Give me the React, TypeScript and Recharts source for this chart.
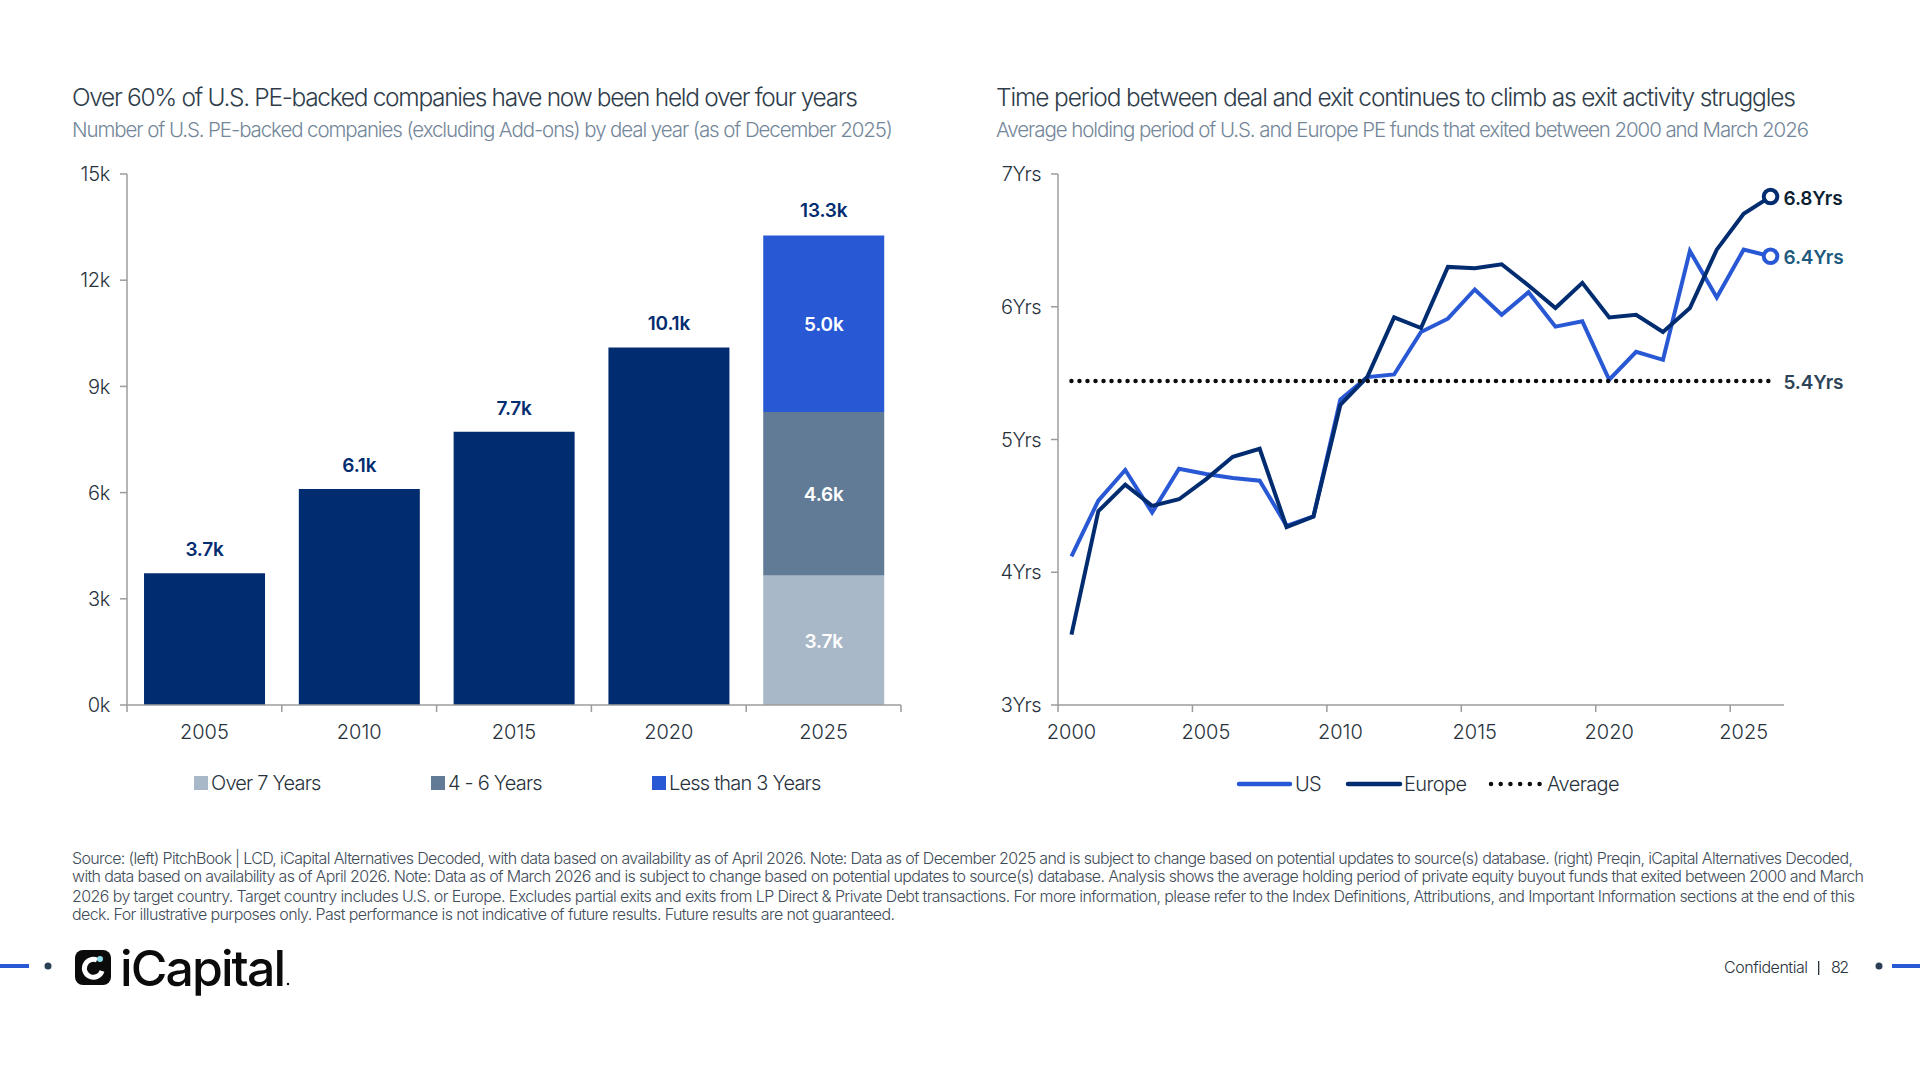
import { Bar, BarChart, LabelList, Legend, Line, LineChart, XAxis, YAxis } from 'recharts';

const FONT = 'Inter, "Noto Sans", sans-serif';
const NAVY = '#022c70';
const BLUE = '#2958d5';
const SLATE = '#617a95';
const MIST = '#a9b8c8';
const AXIS = '#9c9c9c';
const INK = '#28323c';

// left chart
const dealYears = ['2005', '2010', '2015', '2020', '2025'];
const allHeld = [3.72, 6.1, 7.72, 10.1, null];
const over7 = [null, null, null, null, 3.66];
const fourToSix = [null, null, null, null, 4.62];
const under3 = [null, null, null, null, 4.98];
const stackTotal = [null, null, null, null, 13.3];
const countTicks = [0, 3, 6, 9, 12, 15];

// right chart
const exitYears = ['2000', '2001', '2002', '2003', '2004', '2005', '2006', '2007', '2008', '2009', '2010', '2011', '2012', '2013', '2014', '2015', '2016', '2017', '2018', '2019', '2020', '2021', '2022', '2023', '2024', '2025', '2026'];
const usHolding = [4.12, 4.54, 4.77, 4.45, 4.78, 4.74, 4.71, 4.69, 4.35, 4.42, 5.3, 5.47, 5.49, 5.81, 5.91, 6.13, 5.94, 6.11, 5.85, 5.89, 5.45, 5.66, 5.6, 6.42, 6.07, 6.43, 6.38];
const europeHolding = [3.53, 4.46, 4.66, 4.5, 4.55, 4.7, 4.87, 4.93, 4.34, 4.42, 5.26, 5.47, 5.92, 5.84, 6.3, 6.29, 6.32, 6.16, 5.99, 6.18, 5.92, 5.94, 5.81, 5.99, 6.43, 6.7, 6.83];
const averageHolding = [5.44, 5.44, 5.44, 5.44, 5.44, 5.44, 5.44, 5.44, 5.44, 5.44, 5.44, 5.44, 5.44, 5.44, 5.44, 5.44, 5.44, 5.44, 5.44, 5.44, 5.44, 5.44, 5.44, 5.44, 5.44, 5.44, 5.44];
const yearTicks = [3, 4, 5, 6, 7];

const footnotes = [
  'Source: (left) PitchBook | LCD, iCapital Alternatives Decoded, with data based on availability as of April 2026. Note: Data as of December 2025 and is subject to change based on potential updates to source(s) database. (right) Preqin, iCapital Alternatives Decoded,',
  'with data based on availability as of April 2026. Note: Data as of March 2026 and is subject to change based on potential updates to source(s) database. Analysis shows the average holding period of private equity buyout funds that exited between 2000 and March',
  '2026 by target country. Target country includes U.S. or Europe. Excludes partial exits and exits from LP Direct & Private Debt transactions. For more information, please refer to the Index Definitions, Attributions, and Important Information sections at the end of this',
  'deck. For illustrative purposes only. Past performance is not indicative of future results. Future results are not guaranteed.',
];

const barData = dealYears.map((year, i) => ({
  year,
  allHeld: allHeld[i],
  over7: over7[i],
  fourToSix: fourToSix[i],
  under3: under3[i],
  stackTotal: stackTotal[i],
}));

const lineData = exitYears.map((year, i) => ({
  year,
  US: usHolding[i],
  Europe: europeHolding[i],
  Average: averageHolding[i],
}));

const LAST = exitYears.length - 1;
const kLabel = (v: unknown) => (v == null ? '' : `${Number(v).toFixed(1)}k`);

function Txt({ x, y, w, size, fill, weight = 300, children }: any) {
  return (
    <text x={x} y={y} textLength={w} fontSize={size} fill={fill} fontWeight={weight} fontFamily={FONT}>
      {children}
    </text>
  );
}

function bandTick(band: number, closeEnd: boolean, count: number) {
  return ({ x, y, payload, index }: any) => (
    <g>
      <line x1={x - band / 2} x2={x - band / 2} y1={y - 7} y2={y} stroke={AXIS} strokeWidth={1.5} />
      {closeEnd && index === count - 1 && (
        <line x1={x + band / 2} x2={x + band / 2} y1={y - 7} y2={y} stroke={AXIS} strokeWidth={1.5} />
      )}
      <text x={x} y={y + 27} textAnchor="middle" fontSize={20} fontWeight={300} fill={INK} fontFamily={FONT}>
        {payload.value}
      </text>
    </g>
  );
}

function endDot(color: string) {
  return ({ cx, cy, index }: any) =>
    index === LAST ? (
      <circle key="end" cx={cx} cy={cy} r={6.8} fill="#fff" stroke={color} strokeWidth={4} />
    ) : (
      <g key={index} />
    );
}

function endLabel(text: string, color: string) {
  return ({ x, y, index }: any) =>
    index === LAST ? (
      <text key="end" x={x + 13} y={y + 8} fontSize={19} fontWeight={600} letterSpacing={-0.2} fill={color} fontFamily={FONT}>
        {text}
      </text>
    ) : (
      <g key={index} />
    );
}

const legendText = { position: 'absolute', top: 0, fontSize: 20, fontWeight: 300, letterSpacing: -0.8, color: INK, whiteSpace: 'nowrap', fontFamily: FONT, lineHeight: '24px' } as const;

function BarLegend() {
  const items = [
    { name: 'Over 7 Years', color: MIST, left: 0 },
    { name: '4 - 6 Years', color: SLATE, left: 237 },
    { name: 'Less than 3 Years', color: BLUE, left: 458 },
  ];
  return (
    <div style={{ position: 'relative', width: 640, height: 24 }}>
      {items.map((it) => (
        <div key={it.name}>
          <div style={{ position: 'absolute', left: it.left, top: 5, width: 14, height: 14, background: it.color }} />
          <span style={{ ...legendText, left: it.left + 17 }}>{it.name}</span>
        </div>
      ))}
    </div>
  );
}

function LineLegend() {
  const label = { fontSize: 20, fontWeight: 300, letterSpacing: -0.6, fill: INK, fontFamily: FONT };
  return (
    <svg width={400} height={24} style={{ display: 'block', overflow: 'visible' }}>
      <line x1={2} x2={53} y1={12} y2={12} stroke={BLUE} strokeWidth={4.5} strokeLinecap="round" />
      <text x={58} y={19} {...label}>US</text>
      <line x1={111} x2={163} y1={12} y2={12} stroke={NAVY} strokeWidth={4.5} strokeLinecap="round" />
      <text x={167} y={19} {...label}>Europe</text>
      <line x1={254} x2={303} y1={12} y2={12} stroke="#0d0d0d" strokeWidth={4.5} strokeLinecap="round" strokeDasharray="0.01 9.7" />
      <text x={310} y={19} {...label}>Average</text>
    </svg>
  );
}

const insideLabel = { fontSize: 19, fontWeight: 600, letterSpacing: -0.2, fill: '#fff', fontFamily: FONT };
const topLabel = { fontSize: 19, fontWeight: 600, letterSpacing: -0.2, fill: NAVY, fontFamily: FONT };

function CountChart() {
  return (
    <BarChart
      width={960}
      height={680}
      data={barData}
      barCategoryGap="11%"
      margin={{ top: 24, right: 59, bottom: 65, left: 60 }}
    >
      <XAxis
        dataKey="year"
        height={60}
        tickSize={7}
        tickMargin={0}
        tickLine={false}
        axisLine={{ stroke: AXIS, strokeWidth: 1.5 }}
        tick={bandTick(154.8, true, dealYears.length)}
      />
      <YAxis
        width={67}
        domain={[0, 15]}
        ticks={countTicks}
        tickFormatter={(v) => `${v}k`}
        tickSize={7}
        tickMargin={10}
        interval={0}
        axisLine={{ stroke: AXIS, strokeWidth: 1.5 }}
        tickLine={{ stroke: AXIS, strokeWidth: 1.5 }}
        tick={{ fontSize: 20, fontWeight: 300, letterSpacing: -0.3, fill: INK, fontFamily: FONT }}
      />
      <Bar dataKey="allHeld" stackId="a" fill={NAVY} isAnimationActive={false}>
        <LabelList dataKey="allHeld" position="top" offset={17} formatter={kLabel} style={topLabel} />
      </Bar>
      <Bar dataKey="over7" stackId="a" fill={MIST} isAnimationActive={false}>
        <LabelList dataKey="over7" position="center" dy={1} formatter={kLabel} style={insideLabel} />
      </Bar>
      <Bar dataKey="fourToSix" stackId="a" fill={SLATE} isAnimationActive={false}>
        <LabelList dataKey="fourToSix" position="center" dy={1} formatter={kLabel} style={insideLabel} />
      </Bar>
      <Bar dataKey="under3" stackId="a" fill={BLUE} isAnimationActive={false}>
        <LabelList dataKey="under3" position="center" dy={1} formatter={kLabel} style={insideLabel} />
        <LabelList dataKey="stackTotal" position="top" offset={19} formatter={kLabel} style={topLabel} />
      </Bar>
      <Legend
        layout="horizontal"
        verticalAlign="middle"
        align="center"
        wrapperStyle={{ position: 'absolute', left: 194, top: 620.5, width: 640, height: 24 }}
        content={() => <BarLegend />}
      />
    </BarChart>
  );
}

function HoldingChart() {
  return (
    <LineChart
      width={960}
      height={680}
      data={lineData}
      margin={{ top: 24, right: 136, bottom: 65, left: 38 }}
    >
      <XAxis
        dataKey="year"
        height={60}
        interval={4}
        padding={{ left: 13.46, right: 13.46 }}
        tickSize={7}
        tickMargin={0}
        tickLine={false}
        axisLine={{ stroke: AXIS, strokeWidth: 1.5 }}
        tick={bandTick(26.92, false, exitYears.length)}
      />
      <YAxis
        width={60}
        domain={[3, 7]}
        ticks={yearTicks}
        tickFormatter={(v) => `${v}Yrs`}
        tickSize={7}
        tickMargin={10}
        interval={0}
        axisLine={{ stroke: AXIS, strokeWidth: 1.5 }}
        tickLine={{ stroke: AXIS, strokeWidth: 1.5 }}
        tick={{ fontSize: 20, fontWeight: 300, letterSpacing: -0.5, fill: INK, fontFamily: FONT }}
      />
      <Line dataKey="US" stroke={BLUE} strokeWidth={4} strokeLinejoin="miter" isAnimationActive={false} dot={endDot(BLUE)} label={endLabel('6.4Yrs', '#1d5a7e')} />
      <Line dataKey="Europe" stroke={NAVY} strokeWidth={4} strokeLinejoin="miter" isAnimationActive={false} dot={endDot(NAVY)} label={endLabel('6.8Yrs', '#0d1f33')} />
      <Line dataKey="Average" stroke="#0d0d0d" strokeWidth={4.5} strokeLinecap="round" strokeDasharray="0.01 8" isAnimationActive={false} dot={false} label={endLabel('5.4Yrs', '#2e4357')} />
      <Legend
        layout="horizontal"
        verticalAlign="middle"
        align="center"
        wrapperStyle={{ position: 'absolute', left: 277, top: 621.5, width: 400, height: 24 }}
        content={() => <LineLegend />}
      />
    </LineChart>
  );
}

export default function App() {
  return (
    <div style={{ position: 'absolute', left: 0, top: 0, width: 1920, height: 1080, background: '#fff', overflow: 'hidden' }}>
      <svg width={1920} height={1080} style={{ position: 'absolute', left: 0, top: 0 }}>
        <Txt x={72} y={106} w={786} size={24.5} fill="#2f3d4b">Over 60% of U.S. PE-backed companies have now been held over four years</Txt>
        <Txt x={72} y={137} w={821} size={20.5} fill="#74879a">Number of U.S. PE-backed companies (excluding Add-ons) by deal year (as of December 2025)</Txt>
        <Txt x={996} y={106} w={800} size={24.5} fill="#2f3d4b">Time period between deal and exit continues to climb as exit activity struggles</Txt>
        <Txt x={996} y={137} w={813} size={20.5} fill="#74879a">Average holding period of U.S. and Europe PE funds that exited between 2000 and March 2026</Txt>

        <Txt x={72} y={864} w={1781} size={16} fill="#3f4c59">{footnotes[0]}</Txt>
        <Txt x={72} y={882} w={1792} size={16} fill="#3f4c59">{footnotes[1]}</Txt>
        <Txt x={72} y={902} w={1783} size={16} fill="#3f4c59">{footnotes[2]}</Txt>
        <Txt x={72} y={920} w={823} size={16} fill="#3f4c59">{footnotes[3]}</Txt>

        <rect x={0} y={964} width={29} height={4} fill={BLUE} />
        <circle cx={48} cy={966} r={3.5} fill="#2b3f55" />
        <rect x={75} y={950} width={36} height={35} rx={8} fill="#0b0b0b" />
        <path d="M97 960 A9 9 0 1 0 102 971" fill="none" stroke="#fff" strokeWidth={5} />
        <circle cx={100} cy={959} r={3} fill="#8fdcea" />
        <Txt x={120} y={986} w={166} size={50} fill="#0b0b0b" weight={500}>iCapital</Txt>
        <circle cx={288} cy={984} r={1.2} fill="#0b0b0b" />
        <Txt x={1724} y={973} w={84} size={16} fill={INK}>Confidential</Txt>
        <rect x={1818} y={961} width={1.3} height={14} fill={INK} />
        <Txt x={1831} y={973} w={18} size={16} fill={INK}>82</Txt>
        <circle cx={1879} cy={966} r={3.5} fill="#2b3f55" />
        <rect x={1892} y={964} width={28} height={4} fill={BLUE} />
      </svg>
      <div style={{ position: 'absolute', left: 0, top: 150 }}>
        <CountChart />
      </div>
      <div style={{ position: 'absolute', left: 960, top: 150 }}>
        <HoldingChart />
      </div>
    </div>
  );
}
